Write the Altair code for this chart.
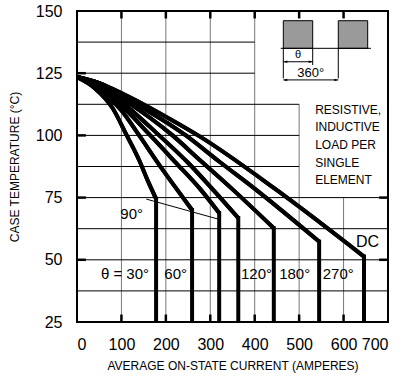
import altair as alt
import pandas as pd

FONT = "Liberation Sans"

x_ticks = [0, 100, 200, 300, 400, 500, 600, 700]
y_ticks = [25, 50, 75, 100, 125, 150]

# curves (average current A, case temperature C) up to the knee
c30_i = [0, 40, 80, 112, 140, 160, 178]
c30_t = [123.5, 119, 111, 100, 90, 81.5, 74.5]
c60_i = [0, 50, 100, 140, 180, 222, 259]
c60_t = [123.5, 118.5, 110, 100, 89.5, 79, 70]
c90_i = [0, 50, 100, 165, 220, 277, 320]
c90_t = [123.5, 119.5, 112, 100, 89.5, 78.5, 68.8]
c120_i = [0, 50, 100, 185, 250, 307, 363]
c120_t = [123.5, 120, 113.5, 100, 89, 78, 66.8]
c180_i = [0, 50, 100, 215, 277, 352, 443]
c180_t = [123.5, 120.5, 115, 100, 90, 78, 62.7]
c270_i = [0, 50, 100, 245, 320, 404, 545]
c270_t = [123.5, 121, 116, 100, 89.5, 78, 57.3]
cdc_i = [0, 50, 100, 200, 277, 446, 646]
cdc_t = [123.5, 121, 117, 107.5, 99.5, 78.5, 51.3]

curve_names = ["30", "60", "90", "120", "180", "270", "DC"]
curve_data = [(c30_i, c30_t), (c60_i, c60_t), (c90_i, c90_t), (c120_i, c120_t),
              (c180_i, c180_t), (c270_i, c270_t), (cdc_i, cdc_t)]

rows = []
knees = []
for name, (ci, ct) in zip(curve_names, curve_data):
    for k, (a, b) in enumerate(zip(ci, ct)):
        rows.append({"curve": name, "i": a, "t": b, "k": k})
    knees.append({"curve": name, "i": ci[-1], "t": ct[-1], "t2": 25})
df = pd.DataFrame(rows)
kdf = pd.DataFrame(knees)

xs = alt.Scale(domain=[0, 700], nice=False, zero=False)
ys = alt.Scale(domain=[25, 150], nice=False, zero=False)

# grid segments
vgrid_x = [100, 200, 300, 400, 500, 600]
vgrid_top = [150, 150, 150, 150, 112.5, 75]
hgrid_y = [37.5, 50, 62.5, 75, 87.5, 100, 112.5, 125, 137.5]
hgrid_right = [700, 700, 700, 700, 500, 500, 500, 400, 400]

vg = pd.DataFrame({"x": vgrid_x, "y": [25] * len(vgrid_x), "y2": vgrid_top})
hg = pd.DataFrame({"y": hgrid_y, "x": [0] * len(hgrid_y), "x2": hgrid_right})

curves = alt.Chart(df).mark_line(color="black", strokeWidth=4, strokeCap="butt",
                                 interpolate="monotone", clip=True).encode(
    x=alt.X("i:Q", scale=xs, axis=alt.Axis(
        values=x_ticks, title="AVERAGE ON-STATE  CURRENT (AMPERES)", grid=False,
        ticks=False, tickSize=0, domain=False, labelFontSize=16, labelFont=FONT,
        labelColor="black", labelBaseline="alphabetic", labelPadding=27,
        titleFont=FONT, titleFontSize=12, titleFontWeight="normal", titleColor="black",
        titleBaseline="alphabetic", titleY=47)),
    y=alt.Y("t:Q", scale=ys, axis=alt.Axis(
        values=y_ticks, title="CASE TEMPERATURE (°C)", grid=False, ticks=False,
        tickSize=0, domain=False, labelFontSize=16, labelFont=FONT, labelColor="black",
        labelPadding=15, titleFont=FONT, titleFontSize=12, titleFontWeight="normal",
        titleColor="black", titleX=-56, titleY=155.5, titleBaseline="bottom")),
    detail="curve:N",
    order="k:Q",
)
verticals = alt.Chart(kdf).mark_rule(color="black", strokeWidth=4, strokeCap="square",
                                     clip=True).encode(
    x=alt.X("i:Q", scale=xs), y=alt.Y("t:Q", scale=ys), y2="t2:Q")

vgrid = alt.Chart(vg).mark_rule(color="#777777", strokeWidth=1).encode(
    x=alt.X("x:Q", scale=xs), y=alt.Y("y:Q", scale=ys), y2="y2:Q")
hgrid = alt.Chart(hg).mark_rule(color="black", strokeWidth=1).encode(
    y=alt.Y("y:Q", scale=ys), x=alt.X("x:Q", scale=xs), x2="x2:Q")

# inner major ticks
tick_x = [100, 200, 300, 400, 500, 600]
bt = pd.DataFrame({"x": tick_x, "y": [25] * 6, "y2": [28] * 6})
tt = pd.DataFrame({"x": tick_x, "y": [150] * 6, "y2": [147] * 6})
lt = pd.DataFrame({"y": [50, 75, 100, 125], "x": [0] * 4, "x2": [20] * 4})
rt = pd.DataFrame({"y": [50, 75], "x": [700] * 2, "x2": [680] * 2})
ticks = alt.layer(
    alt.Chart(bt).mark_rule(color="black", strokeWidth=2.5).encode(
        x=alt.X("x:Q", scale=xs), y=alt.Y("y:Q", scale=ys), y2="y2:Q"),
    alt.Chart(tt).mark_rule(color="black", strokeWidth=2.5).encode(
        x=alt.X("x:Q", scale=xs), y=alt.Y("y:Q", scale=ys), y2="y2:Q"),
    alt.Chart(lt).mark_rule(color="black", strokeWidth=2.5).encode(
        y=alt.Y("y:Q", scale=ys), x=alt.X("x:Q", scale=xs), x2="x2:Q"),
    alt.Chart(rt).mark_rule(color="black", strokeWidth=2.5).encode(
        y=alt.Y("y:Q", scale=ys), x=alt.X("x:Q", scale=xs), x2="x2:Q"),
)

# curve labels
lab_text = ["θ = 30°", "60°", "90°", "120°", "180°", "270°"]
lab_i = [108, 222, 123, 404, 490, 588]
lab_t = [44.2, 44.2, 68.4, 44.2, 44.2, 44.2]
labels = alt.Chart(pd.DataFrame({"i": lab_i, "t": lab_t, "s": lab_text})).mark_text(
    font=FONT, fontSize=15, color="black", baseline="middle", align="center").encode(
    x=alt.X("i:Q", scale=xs), y=alt.Y("t:Q", scale=ys), text="s:N")
dc = alt.Chart(pd.DataFrame({"i": [654], "t": [57.3], "s": ["DC"]})).mark_text(
    font=FONT, fontSize=16, color="black", baseline="middle", align="center").encode(
    x=alt.X("i:Q", scale=xs), y=alt.Y("t:Q", scale=ys), text="s:N")
pointer = alt.Chart(pd.DataFrame({"x": [156], "y": [74.4], "x2": [321], "y2": [66.2]})).mark_rule(
    color="black", strokeWidth=1).encode(
    x=alt.X("x:Q", scale=xs), y=alt.Y("y:Q", scale=ys), x2="x2:Q", y2="y2:Q")

# note text
note_lines = ["RESISTIVE,", "INDUCTIVE", "LOAD PER", "SINGLE", "ELEMENT"]
note_t = [110.4, 103.2, 96.0, 88.8, 81.9]
note = alt.Chart(pd.DataFrame({"i": [536] * 5, "t": note_t, "s": note_lines})).mark_text(
    font=FONT, fontSize=12, color="black", baseline="middle", align="left").encode(
    x=alt.X("i:Q", scale=xs), y=alt.Y("t:Q", scale=ys), text="s:N")

# waveform inset
rects = alt.Chart(pd.DataFrame({"x": [464.4, 588.1], "x2": [530.5, 654.3],
                                "y": [135, 135], "y2": [146.1, 146.1]})).mark_rect(
    fill="#9a9a9a", stroke="black", strokeWidth=1).encode(
    x=alt.X("x:Q", scale=xs), x2="x2:Q", y=alt.Y("y:Q", scale=ys), y2="y2:Q")
inset_lines = pd.DataFrame({
    "x": [458.5, 464.4, 530.5, 588.1, 464.4, 464.4],
    "x2": [661.6, 464.4, 530.5, 588.1, 530.5, 588.1],
    "y": [135, 135, 135, 135, 129.6, 122.3],
    "y2": [135, 122.9, 128.3, 122.9, 129.6, 122.3],
})
inset_rules = alt.Chart(inset_lines).mark_rule(color="black", strokeWidth=1).encode(
    x=alt.X("x:Q", scale=xs), x2="x2:Q", y=alt.Y("y:Q", scale=ys), y2="y2:Q")
left_heads = alt.Chart(pd.DataFrame({"x": [464.4, 464.4], "y": [129.6, 122.3]})).mark_point(
    shape="M0,0L1.6,-0.5L1.6,0.5Z", filled=True, color="black", size=25, opacity=1).encode(
    x=alt.X("x:Q", scale=xs), y=alt.Y("y:Q", scale=ys))
right_heads = alt.Chart(pd.DataFrame({"x": [530.5, 588.1], "y": [129.6, 122.3]})).mark_point(
    shape="M0,0L-1.6,-0.5L-1.6,0.5Z", filled=True, color="black", size=25, opacity=1).encode(
    x=alt.X("x:Q", scale=xs), y=alt.Y("y:Q", scale=ys))
theta_lab = alt.Chart(pd.DataFrame({"x": [497.5], "y": [132.3], "s": ["θ"]})).mark_text(
    font=FONT, fontSize=11, color="black", baseline="middle", align="center").encode(
    x=alt.X("x:Q", scale=xs), y=alt.Y("y:Q", scale=ys), text="s:N")
deg_lab = alt.Chart(pd.DataFrame({"x": [526], "y": [125.1], "s": ["360°"]})).mark_text(
    font=FONT, fontSize=13, color="black", baseline="middle", align="center").encode(
    x=alt.X("x:Q", scale=xs), y=alt.Y("y:Q", scale=ys), text="s:N")

chart = alt.layer(
    curves, vgrid, hgrid, ticks, curves, verticals, labels, dc, pointer, note,
    rects, inset_rules, left_heads, right_heads, theta_lab, deg_lab,
).properties(
    width=311, height=311,
    padding={"left": 77, "top": 11, "right": 14, "bottom": 54},
    autosize=alt.AutoSizeParams(type="none"),
    background="white",
).configure_view(stroke="black", strokeWidth=2)

chart.save("out.html", embed_options={"renderer": "svg", "actions": False})
